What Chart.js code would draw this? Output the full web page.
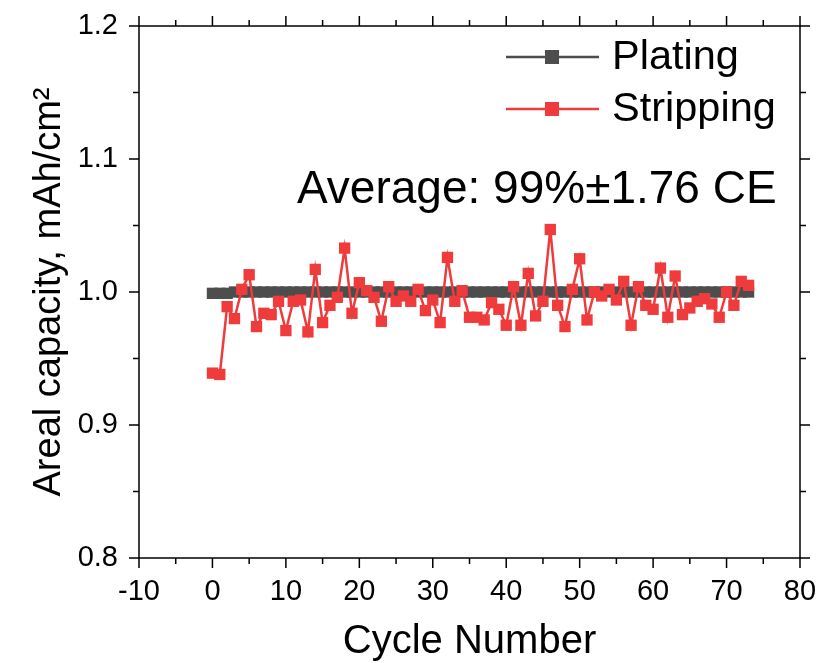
<!DOCTYPE html>
<html lang="en">
<head>
    <meta charset="UTF-8">
    <title>Areal capacity</title>
    <script src="https://cdn.jsdelivr.net/npm/chart.js"></script>
    <style>
        html, body { margin: 0; padding: 0; background: #fff; }
        #wrap { width: 818px; height: 663px; }
    </style>
</head>
<body>
    <div id="wrap"><canvas id="capChart"></canvas></div>

    <script>
        const cycles = [0, 1, 2, 3, 4, 5, 6, 7, 8, 9, 10, 11, 12, 13, 14, 15, 16, 17, 18, 19,
            20, 21, 22, 23, 24, 25, 26, 27, 28, 29, 30, 31, 32, 33, 34, 35, 36, 37, 38, 39,
            40, 41, 42, 43, 44, 45, 46, 47, 48, 49, 50, 51, 52, 53, 54, 55, 56, 57, 58, 59,
            60, 61, 62, 63, 64, 65, 66, 67, 68, 69, 70, 71, 72, 73];

        const plating = [0.999, 0.999, 0.999, 1.000, 1.000, 1.000, 1.000, 1.000, 1.000, 1.000,
            1.000, 1.000, 1.000, 1.000, 1.000, 1.000, 1.000, 1.000, 1.000, 1.000,
            1.000, 1.000, 1.000, 1.000, 1.000, 1.000, 1.000, 1.000, 1.000, 1.000,
            1.000, 1.000, 1.000, 1.000, 1.000, 1.000, 1.000, 1.000, 1.000, 1.000,
            1.000, 1.000, 1.000, 1.000, 1.000, 1.000, 1.000, 1.000, 1.000, 1.000,
            1.000, 1.000, 1.000, 1.000, 1.000, 1.000, 1.000, 1.000, 1.000, 1.000,
            1.000, 1.000, 1.000, 1.000, 1.000, 1.000, 1.000, 1.000, 1.000, 1.000,
            1.000, 1.000, 1.000, 1.000];

        const stripping = [0.939, 0.938, 0.989, 0.980, 1.002, 1.013, 0.974, 0.984, 0.983, 0.993,
            0.971, 0.993, 0.994, 0.970, 1.017, 0.977, 0.990, 0.996, 1.033, 0.984,
            1.007, 1.001, 0.996, 0.978, 1.004, 0.993, 0.997, 0.993, 1.002, 0.986,
            0.994, 0.977, 1.026, 0.993, 1.001, 0.981, 0.981, 0.979, 0.992, 0.987,
            0.975, 1.004, 0.975, 1.014, 0.982, 0.993, 1.047, 0.990, 0.974, 1.002,
            1.025, 0.979, 1.000, 0.997, 1.002, 0.994, 1.008, 0.975, 1.004, 0.990,
            0.987, 1.018, 0.981, 1.012, 0.983, 0.988, 0.993, 0.995, 0.991, 0.981,
            1.000, 0.990, 1.008, 1.005];

        const xTicks = [-10, 0, 10, 20, 30, 40, 50, 60, 70, 80];
        const yTicks = [0.8, 0.9, 1.0, 1.1, 1.2];
        const seriesNames = ['Plating', 'Stripping'];
        const noteText = 'Average: 99%\u00b11.76 CE';

        const greyCol = '#4d4d4d';
        const redCol = '#ef3b3b';
        const fontFam = '"Liberation Sans", Arial, sans-serif';

        // frame, ticks on 4 sides, legend and note
        const framePlugin = {
            id: 'frame',
            afterDraw(chart) {
                const ctx = chart.ctx;
                const a = chart.chartArea;
                const xs = chart.scales.x, ys = chart.scales.y;
                ctx.save();
                ctx.strokeStyle = '#000';
                ctx.lineWidth = 1.5;
                ctx.strokeRect(a.left, a.top, a.right - a.left, a.bottom - a.top);

                for (let v = xs.min; v <= xs.max + 0.001; v += 5) {
                    const px = xs.getPixelForValue(v);
                    const len = (Math.round(v) % 10 === 0) ? 10 : 6;
                    ctx.beginPath();
                    ctx.moveTo(px, a.bottom); ctx.lineTo(px, a.bottom + len);
                    ctx.moveTo(px, a.top); ctx.lineTo(px, a.top - len);
                    ctx.stroke();
                }
                for (let i = 0; i <= 8; i++) {
                    const v = ys.min + i * 0.05;
                    const py = ys.getPixelForValue(v);
                    const len = (i % 2 === 0) ? 10 : 6;
                    ctx.beginPath();
                    ctx.moveTo(a.left, py); ctx.lineTo(a.left - len, py);
                    ctx.moveTo(a.right, py); ctx.lineTo(a.right + len, py);
                    ctx.stroke();
                }

                // legend
                const rows = [{ c: greyCol, y: 57 }, { c: redCol, y: 109 }];
                rows.forEach((r, i) => {
                    ctx.strokeStyle = r.c;
                    ctx.lineWidth = 2.5;
                    ctx.beginPath();
                    ctx.moveTo(506, r.y); ctx.lineTo(599, r.y);
                    ctx.stroke();
                    ctx.fillStyle = r.c;
                    ctx.fillRect(545, r.y - 7, 14, 14);
                    ctx.fillStyle = '#000';
                    ctx.font = '41.5px ' + fontFam;
                    ctx.textBaseline = 'middle';
                    ctx.textAlign = 'left';
                    ctx.fillText(seriesNames[i], 612, r.y + 1);
                });

                ctx.font = '46px ' + fontFam;
                ctx.textBaseline = 'alphabetic';
                ctx.fillText(noteText, 297, 203);
                ctx.restore();
            }
        };

        new Chart(document.getElementById('capChart'), {
            type: 'line',
            data: {
                datasets: [
                    {
                        label: seriesNames[1],
                        data: cycles.map((c, i) => ({ x: c, y: stripping[i] })),
                        borderColor: redCol,
                        backgroundColor: redCol,
                        borderWidth: 2.5,
                        pointStyle: 'rect',
                        pointRadius: 8,
                        pointBorderWidth: 0,
                        tension: 0,
                        order: 1
                    },
                    {
                        label: seriesNames[0],
                        data: cycles.map((c, i) => ({ x: c, y: plating[i] })),
                        borderColor: greyCol,
                        backgroundColor: greyCol,
                        borderWidth: 2,
                        pointStyle: 'rect',
                        pointRadius: 8,
                        pointBorderWidth: 0,
                        tension: 0,
                        order: 2
                    }
                ]
            },
            options: {
                responsive: true,
                maintainAspectRatio: false,
                animation: false,
                layout: { padding: { left: 0, top: 26, right: 18, bottom: 0 } },
                scales: {
                    x: {
                        type: 'linear',
                        min: -10,
                        max: 80,
                        afterBuildTicks: s => { s.ticks = xTicks.map(v => ({ value: v })); },
                        afterFit: s => { s.height = 105; s.paddingLeft = 0; s.paddingRight = 0; },
                        grid: { display: false },
                        border: { display: false },
                        ticks: {
                            color: '#000',
                            padding: 9,
                            maxRotation: 0,
                            font: { family: fontFam, size: 29 }
                        },
                        title: {
                            display: true,
                            text: 'Cycle Number',
                            color: '#000',
                            padding: { top: 0, bottom: 0 },
                            font: { family: fontFam, size: 40, lineHeight: 1.05 }
                        }
                    },
                    y: {
                        min: 0.8,
                        max: 1.2,
                        afterBuildTicks: s => { s.ticks = yTicks.map(v => ({ value: v })); },
                        afterFit: s => { s.width = 139; s.paddingTop = 0; s.paddingBottom = 0; },
                        grid: { display: false },
                        border: { display: false },
                        ticks: {
                            color: '#000',
                            padding: 13,
                            font: { family: fontFam, size: 29 },
                            callback: v => v.toFixed(1)
                        },
                        title: {
                            display: true,
                            text: 'Areal capacity, mAh/cm\u00b2',
                            color: '#000',
                            padding: { top: 27, bottom: 0 },
                            font: { family: fontFam, size: 38 }
                        }
                    }
                },
                plugins: {
                    legend: { display: false },
                    tooltip: { enabled: false }
                }
            },
            plugins: [framePlugin]
        });
    </script>
</body>
</html>
